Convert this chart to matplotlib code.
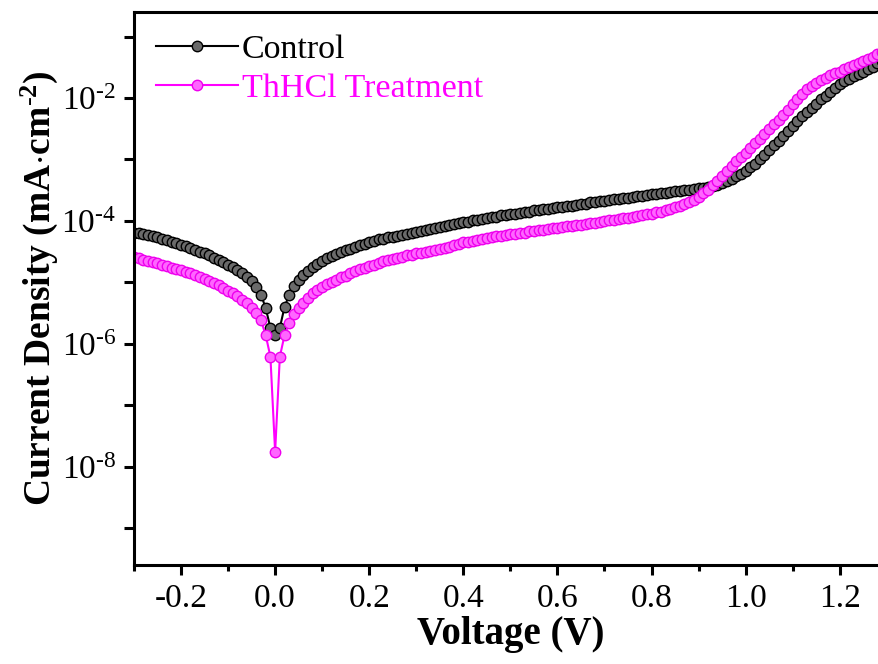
import numpy as np
import matplotlib
matplotlib.use('Agg')
import matplotlib.pyplot as plt
from matplotlib.ticker import FixedLocator, MultipleLocator, FuncFormatter

# voltage sweep, -0.30 V to 1.29 V in 0.01 V steps
voltage = np.round(np.arange(-0.30, 1.295, 0.01), 2)

# log10 of current density (mA cm^-2)
control_log = [
    -4.19, -4.20, -4.21, -4.23, -4.25, -4.27, -4.29, -4.31, -4.34, -4.36,
    -4.39, -4.41, -4.44, -4.47, -4.50, -4.53, -4.56, -4.60, -4.63, -4.67,
    -4.71, -4.75, -4.80, -4.85, -4.91, -4.98, -5.07, -5.20, -5.42, -5.74,
    -5.85, -5.74, -5.40, -5.20, -5.06, -4.96, -4.88, -4.81, -4.75, -4.70,
    -4.65, -4.61, -4.57, -4.54, -4.51, -4.48, -4.45, -4.42, -4.39, -4.37,
    -4.34, -4.32, -4.30, -4.29, -4.27, -4.26, -4.24, -4.23, -4.21, -4.19,
    -4.18, -4.16, -4.15, -4.13, -4.11, -4.10, -4.08, -4.06, -4.05, -4.03,
    -4.02, -4.01, -3.99, -3.98, -3.97, -3.95, -3.94, -3.93, -3.91, -3.90,
    -3.89, -3.88, -3.87, -3.86, -3.85, -3.83, -3.82, -3.81, -3.80, -3.79,
    -3.78, -3.77, -3.76, -3.75, -3.74, -3.73, -3.72, -3.70, -3.69, -3.68,
    -3.67, -3.66, -3.65, -3.64, -3.63, -3.62, -3.61, -3.60, -3.59, -3.58,
    -3.57, -3.56, -3.55, -3.54, -3.53, -3.52, -3.51, -3.50, -3.49, -3.48,
    -3.47, -3.46, -3.45, -3.43, -3.41, -3.38, -3.35, -3.31, -3.27, -3.23,
    -3.18, -3.13, -3.07, -3.00, -2.93, -2.85, -2.77, -2.70, -2.62, -2.54,
    -2.46, -2.38, -2.30, -2.23, -2.16, -2.09, -2.02, -1.96, -1.90, -1.84,
    -1.78, -1.73, -1.69, -1.65, -1.61, -1.57, -1.53, -1.49, -1.43, -1.39,
]

treated_log = [
    -4.59, -4.61, -4.63, -4.65, -4.67, -4.69, -4.71, -4.73, -4.76, -4.78,
    -4.80, -4.83, -4.85, -4.88, -4.91, -4.94, -4.97, -5.01, -5.05, -5.09,
    -5.14, -5.18, -5.23, -5.28, -5.34, -5.41, -5.50, -5.62, -5.86, -6.21,
    -7.76, -6.21, -5.86, -5.66, -5.52, -5.42, -5.33, -5.25, -5.18, -5.12,
    -5.07, -5.03, -4.99, -4.96, -4.92, -4.89, -4.85, -4.82, -4.79, -4.76,
    -4.73, -4.71, -4.68, -4.66, -4.64, -4.62, -4.60, -4.58, -4.56, -4.55,
    -4.53, -4.52, -4.51, -4.49, -4.48, -4.46, -4.44, -4.42, -4.39, -4.37,
    -4.35, -4.34, -4.32, -4.31, -4.29, -4.28, -4.26, -4.25, -4.24, -4.23,
    -4.22, -4.21, -4.20, -4.19, -4.17, -4.16, -4.15, -4.14, -4.13, -4.12,
    -4.11, -4.10, -4.09, -4.08, -4.07, -4.06, -4.05, -4.04, -4.03, -4.01,
    -4.00, -3.99, -3.98, -3.97, -3.96, -3.95, -3.93, -3.92, -3.91, -3.89,
    -3.88, -3.86, -3.85, -3.83, -3.80, -3.78, -3.76, -3.73, -3.70, -3.66,
    -3.61, -3.55, -3.49, -3.42, -3.35, -3.27, -3.19, -3.11, -3.03, -2.96,
    -2.89, -2.82, -2.74, -2.66, -2.58, -2.50, -2.43, -2.35, -2.27, -2.20,
    -2.10, -2.01, -1.93, -1.86, -1.80, -1.75, -1.71, -1.67, -1.63, -1.60,
    -1.57, -1.53, -1.50, -1.46, -1.43, -1.40, -1.37, -1.33, -1.29, -1.25,
]

labels = ['Control', 'ThHCl Treatment']

plt.rcParams['font.family'] = ['Liberation Serif', 'DejaVu Serif']
plt.rcParams['mathtext.fontset'] = 'custom'
plt.rcParams['mathtext.rm'] = 'Liberation Serif'
plt.rcParams['mathtext.it'] = 'Liberation Serif:italic'
plt.rcParams['mathtext.bf'] = 'Liberation Serif:bold'

fig = plt.figure(figsize=(8.79, 6.64), dpi=100)
ax = fig.add_axes([0.1524, 0.149, 0.8565, 0.833])

ax.plot(voltage, 10.0 ** np.array(control_log), '-o', color='black', lw=1.5,
        ms=7.5, mfc='#6a6a6a', mec='black', mew=1.0, label=labels[0])
ax.plot(voltage, 10.0 ** np.array(treated_log), '-o', color='#ff00ff', lw=1.5,
        ms=7.5, mfc='#ff66ff', mec='#ee00ee', mew=1.0, label=labels[1])

ax.set_yscale('log')
ax.set_xlim(-0.3, 1.3)
ax.set_ylim(10 ** -9.6, 10 ** -0.6)

ax.xaxis.set_major_locator(MultipleLocator(0.2))
ax.xaxis.set_minor_locator(MultipleLocator(0.1))
ax.xaxis.set_major_formatter(FuncFormatter(lambda v, p: '%.1f' % v))

decades = [10.0 ** e for e in range(-9, 0)]
ax.yaxis.set_major_locator(FixedLocator(decades))
ax.yaxis.set_minor_locator(FixedLocator([]))


def ylab(v, pos):
    e = int(round(np.log10(v)))
    if e % 2 == 0:
        return r'10$^{\text{-}%d}$' % abs(e)
    return ''


ax.yaxis.set_major_formatter(FuncFormatter(ylab))

for s in ax.spines.values():
    s.set_linewidth(2.2)
ax.tick_params(which='major', direction='out', length=7, width=2.2,
               labelsize=24, pad=6)
ax.tick_params(which='minor', direction='out', length=4, width=2.2)

ax.set_xlabel('Voltage (V)', fontsize=28, fontweight='bold', labelpad=2)
ax.set_ylabel(r'Current Density (mA$\cdot$cm$^{\mathbf{\text{-}2}}$)',
              fontsize=27, fontweight='bold', labelpad=1)

leg = ax.legend(loc='upper left', bbox_to_anchor=(0.0, 1.0), frameon=False,
                fontsize=24.5, handlelength=2.4, handletextpad=0.12,
                borderaxespad=0.25, labelspacing=0.25)
for txt, c in zip(leg.get_texts(), ['black', '#ff00ff']):
    txt.set_color(c)

fig.savefig('out.png', dpi=100)
